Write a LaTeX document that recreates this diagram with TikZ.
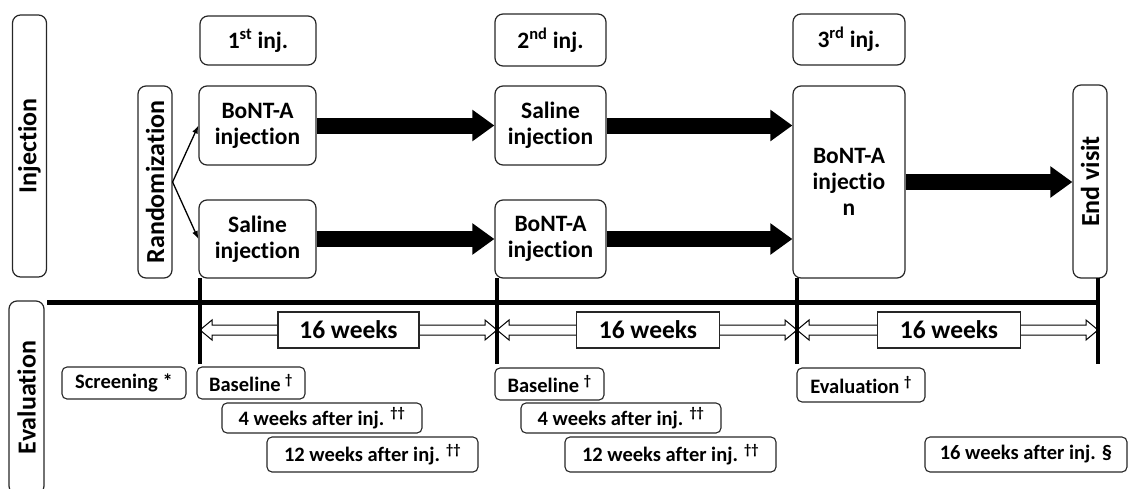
\documentclass[tikz,border=0pt]{standalone}
\usepackage{fontspec}
\setmainfont{Carlito}[Ligatures=NoCommon]
\usetikzlibrary{arrows.meta}
\begin{document}
\begin{tikzpicture}[x=1pt,y=-1pt,
  rbox/.style={draw=black!85,line width=1.2pt,rounded corners=8pt,align=center,inner sep=0pt,font=\bfseries\fontsize{23.5}{26}\selectfont},
  vbox/.style={rbox,rotate=90,minimum height=34pt,font=\bfseries\fontsize{26}{28}\selectfont},
  ebox/.style={draw=black!85,line width=1.1pt,rounded corners=5pt,inner sep=0pt,minimum height=32pt,font=\bfseries\fontsize{20.5}{22}\selectfont},
  wbox/.style={draw=black!85,line width=1.1pt,fill=white,inner sep=0pt,minimum width=143pt,minimum height=36pt,font=\bfseries\fontsize{25.5}{28}\selectfont},
  fat/.style={line width=16pt,-{Triangle[length=22pt,width=30pt]}},
  thin/.style={line width=1.3pt,-{Latex[length=8pt,width=6pt]}},
  tick/.style={line width=4pt}]
\useasboundingbox (0,0) rectangle (1129,488);
\node[vbox,minimum width=262pt] (inj) at (29.5,146) {Injection};
\node[vbox,minimum width=193pt,minimum height=35pt] (eva) at (26.5,397.5) {Evaluation};
\node[rbox,minimum width=116pt,minimum height=49pt] (i1) at (258,40.5) {1\textsuperscript{st} inj.};
\node[rbox,minimum width=111pt,minimum height=52pt] (i2) at (550.5,40) {2\textsuperscript{nd} inj.};
\node[rbox,minimum width=112pt,minimum height=51pt] (i3) at (849,39.5) {3\textsuperscript{rd} inj.};
\node[vbox,minimum width=192pt] (rand) at (155,182) {Randomization};
\node[rbox,minimum width=117pt,minimum height=79pt] (a1) at (257.5,125.5) {BoNT-A\\injection};
\node[rbox,minimum width=117pt,minimum height=78pt] (s1) at (257.5,239) {Saline\\injection};
\node[rbox,minimum width=111pt,minimum height=79pt] (s2) at (550.5,125.5) {Saline\\injection};
\node[rbox,minimum width=111pt,minimum height=78pt] (a2) at (550.5,239) {BoNT-A\\injection};
\node[rbox,minimum width=112pt,minimum height=192pt] (a3) at (849,182) {BoNT-A\\injectio\\n};
\node[vbox,minimum width=193pt] (end) at (1090,181.5) {End visit};
\draw[thin] (rand.south) -- (a1.west);
\draw[thin] (rand.south) -- (s1.west);
\draw[fat] (a1.east) -- (s2.west);
\draw[fat] (s1.east) -- (a2.west);
\draw[fat] (s2.east) -- (a3.west |- s2.east);
\draw[fat] (a2.east) -- (a3.west |- a2.east);
\draw[fat] (a3.east) -- (end.north |- a3.east);
\coordinate (tl) at (47,302);
\coordinate (tr) at (1100,302);
\draw[line width=5pt] (tl) -- (tr);
\foreach \a/\b in {200/497,497/797,797/1098}
  \draw[line width=1pt,fill=white] (\a,330) -- ++(12,-10) -- ++(0,5) -- ({\b-12},325) -- ++(0,-5) -- (\b,330)
    -- ({\b-12},340) -- ++(0,-5) -- ({\a+12},335) -- ++(0,5) -- cycle;
\foreach \x [count=\i] in {200,497,797,1098} {
  \coordinate (t\i) at (\x,278);
  \coordinate (b\i) at (\x,364);
  \draw[tick] (t\i) -- (b\i);
}
\node[wbox,minimum width=141pt] (w1) at (348.5,330) {16 weeks};
\node[wbox] (w2) at (648,330) {16 weeks};
\node[wbox] (w3) at (949,330) {16 weeks};
\node[ebox,minimum width=124pt] (scr) at (124,383) {Screening *};
\node[ebox,minimum width=108pt] (base1) at (251,383) {Baseline \textsuperscript{†}};
\node[ebox,minimum width=200pt,minimum height=30pt] (wk4a) at (322,418) {4 weeks after inj. \textsuperscript{††}};
\node[ebox,minimum width=211pt,minimum height=35pt] (wk12a) at (372.5,454.5) {12 weeks after inj. \textsuperscript{††}};
\node[ebox,minimum width=109pt] (base2) at (549.5,384) {Baseline \textsuperscript{†}};
\node[ebox,minimum width=200pt,minimum height=30pt] (wk4b) at (621,418) {4 weeks after inj. \textsuperscript{††}};
\node[ebox,minimum width=211pt,minimum height=35pt] (wk12b) at (670.5,454.5) {12 weeks after inj. \textsuperscript{††}};
\node[ebox,minimum width=128pt,minimum height=34pt] (evl) at (861,385) {Evaluation \textsuperscript{†}};
\node[ebox,minimum width=202pt,minimum height=35pt] (wk16) at (1026,454.5) {16 weeks after inj. §};
\end{tikzpicture}
\end{document}
